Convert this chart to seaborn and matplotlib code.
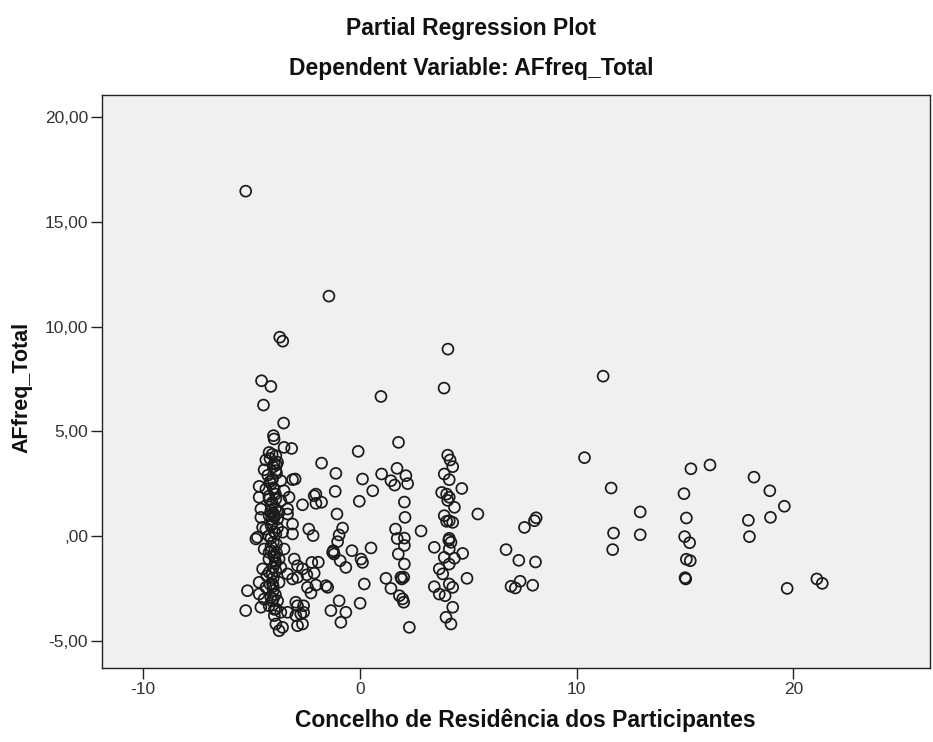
import numpy as np
import pandas as pd
import matplotlib
matplotlib.use("Agg")
import matplotlib.pyplot as plt
import seaborn as sns
from matplotlib.ticker import FixedLocator, FuncFormatter

# Partial residuals: residence council (x) vs. AFfreq_Total (y)
concelho = [
    # left band
    -5.27, -3.70, -3.56, -4.54, -4.11, -4.45, -3.52, -3.99, -3.96, -3.50, -3.15,
    -4.19, -3.88, -4.05, -4.34, -3.80, -3.95, -4.42, -3.88,
    -4.03, -3.65, -3.11, -2.99, -4.65, -4.34, -3.96, -3.50,
    -4.65, -4.19, -3.88, -3.65, -3.27, -4.57, -4.11, -3.73, -3.34,
    -4.57, -4.19, -3.80, -3.34, -3.11, -4.73, -4.34, -4.49, -3.88, -3.57, -3.11, -4.80,
    -4.42, -4.19, -3.96, -3.73, -3.50, -3.03, -2.88, -4.49, -4.19, -3.88, -3.65,
    -3.34, -3.11, -2.88, -5.19, -4.65, -4.34, -4.03, -3.73,
    -4.65, -4.42, -4.11, -3.80, -5.27, -4.57, -4.19, -3.88, -3.65,
    -3.34, -2.88, -2.73, -2.96, -3.88, -3.57, -2.88, -3.73,
    -4.00, -4.10, -3.90, -4.10, -3.95, -4.05, -4.00, -4.10, -3.90, -4.00, -4.00,
    -3.95, -4.20, -4.30, -3.80, -4.25,
    -4.15, -3.85, -4.00, -4.20, -3.90, -4.05, -3.95, -4.10, -3.85, -4.00,
    -4.15, -3.90, -4.05, -3.95, -4.10, -4.00, -3.85, -4.20, -3.95, -4.05,
    -4.05, -3.95, -4.10, -3.90, -4.00, -4.15, -3.85, -4.00,
    # middle-left band
    -1.43, -1.77, -1.11, -1.14, -2.03, -2.03, -1.77, -2.65, -1.06, -2.11,
    -2.36, -2.16, -0.80, -0.96, -1.03, -1.23, -1.19, -1.26,
    -0.37, -0.91, -0.65, -2.65, -2.22, -1.92, -2.11, -2.45,
    -2.42, -2.26, -2.03, -1.57, -1.49, -0.96, -0.65, -1.34, -0.88,
    -2.60, -2.60, -2.65, -2.96,
    -0.08, -0.03, 0.12, 0.59, 0.20, 0.01, 0.05, 0.12, 0.51,
    # central band
    0.97, 1.78, 1.00, 1.71, 1.43, 1.60, 2.12, 2.20, 2.05, 2.08, 2.82,
    1.64, 1.72, 2.05, 1.77, 2.05, 2.05, 2.02, 1.20, 1.43, 1.89, 1.93,
    1.82, 1.97, 2.02, 2.28, 3.43,
    # band near 4
    4.06, 3.88, 4.05, 4.16, 4.28, 3.89, 4.12, 4.70, 3.77, 4.12, 4.36, 3.89, 4.12, 4.28, 5.44,
    4.12, 4.20, 4.12, 4.74, 3.89, 4.36, 4.12, 3.66, 3.82, 4.94, 3.43, 3.66, 3.93,
    4.12, 4.28, 4.28, 3.97, 4.20, 4.05, 4.00, 4.10, 4.00,
    # right side
    7.59, 8.05, 8.13, 6.74, 7.33, 8.10, 7.39, 6.97, 7.17, 7.97,
    11.22, 10.36, 11.59, 11.70, 11.66, 12.93, 12.93,
    15.27, 16.15, 14.95, 15.06, 14.98, 15.21, 15.06, 15.24, 15.00, 15.03,
    18.18, 18.91, 19.58, 17.92, 18.94, 17.97, 19.71, 21.08, 21.33,
]

affreq_total = [
    # left band
    16.46, 9.49, 9.30, 7.41, 7.14, 6.25, 5.39, 4.79, 4.63, 4.23, 4.18,
    3.99, 3.83, 3.90, 3.63, 3.52, 3.45, 3.16, 3.12,
    2.72, 2.64, 2.69, 2.72, 2.37, 2.24, 2.24, 2.16,
    1.85, 1.77, 1.77, 1.68, 1.85, 1.29, 1.21, 1.13, 1.29,
    0.89, 0.97, 0.81, 1.05, 0.57, -0.06, 0.33, 0.41, 0.10, 0.18, 0.10, -0.14,
    -0.62, -0.78, -0.94, -1.10, -0.62, -1.10, -1.42, -1.57, -1.73, -1.66, -1.50,
    -1.81, -2.05, -1.97, -2.61, -2.21, -2.45, -2.29, -2.21,
    -2.77, -3.01, -2.93, -3.09, -3.56, -3.40, -3.33, -3.48, -3.64,
    -3.64, -3.33, -3.72, -3.80, -4.20, -4.36, -4.28, -4.52,
    3.30, 2.50, 2.00, 1.50, 1.00, 0.60, -0.30, -0.50, -1.30, -2.00, -2.60,
    -3.80, -1.10, -1.90, 0.40, 2.90,
    3.70, 3.00, 2.30, 1.90, 1.30, 0.80, 0.20, -0.10, -0.80, -1.50,
    -2.30, -2.80, -3.10, -3.50, 0.50, 1.10, -0.40, 0.00, -1.00, -1.80,
    1.60, 0.90, -0.70, -1.20, -2.40, 2.60, 3.40, -3.00,
    # middle-left band
    11.45, 3.48, 2.99, 2.13, 2.00, 1.56, 1.61, 1.49, 1.05, 1.92,
    0.33, 0.02, 0.38, 0.05, -0.27, -0.70, -0.86, -0.78,
    -0.70, -1.18, -1.50, -1.57, -1.26, -1.25, -1.77, -1.85,
    -2.45, -2.72, -2.34, -2.37, -2.45, -3.09, -3.64, -3.56, -4.12,
    -3.33, -3.64, -4.20, -3.16,
    4.04, 1.66, 2.72, 2.16, -2.29, -3.21, -1.10, -1.26, -0.57,
    # central band
    6.66, 4.47, 2.96, 3.23, 2.64, 2.43, 2.88, 2.50, 1.62, 0.89, 0.24,
    0.33, -0.12, -0.45, -0.86, -1.34, -0.10, -1.97, -2.02, -2.50, -1.97, -2.05,
    -2.85, -3.00, -3.16, -4.36, -0.54,
    # band near 4
    8.92, 7.06, 3.86, 3.63, 3.31, 2.96, 2.69, 2.27, 2.08, 1.85, 1.37, 0.97, 0.73, 0.65, 1.05,
    -0.11, -0.30, -0.62, -0.83, -1.02, -1.06, -1.34, -1.57, -1.81, -2.02, -2.42, -2.77, -2.85,
    -2.29, -2.45, -3.40, -3.88, -4.20, 1.70, 0.70, -0.20, 2.00,
    # right side
    0.41, 0.73, 0.87, -0.65, -1.16, -1.24, -2.16, -2.40, -2.48, -2.35,
    7.63, 3.74, 2.29, 0.14, -0.65, 1.15, 0.06,
    3.21, 3.39, 2.02, 0.86, -0.03, -0.32, -1.11, -1.18, -1.99, -2.05,
    2.81, 2.16, 1.42, 0.75, 0.89, -0.03, -2.50, -2.05, -2.26,
]

x_ticks = [-10, 0, 10, 20]
y_ticks = [-5, 0, 5, 10, 15, 20]

df = pd.DataFrame({"Concelho": concelho, "AFfreq_Total": affreq_total})

sns.set_theme(style="white")
plt.rcParams["font.family"] = ["Liberation Sans", "DejaVu Sans"]

fig = plt.figure(figsize=(9.33, 7.42), dpi=100)
ax = fig.add_axes([102 / 933, 1 - 668 / 742, (930 - 102) / 933, (668 - 95) / 742])
ax.set_facecolor("#f0f0f0")

sns.scatterplot(data=df, x="Concelho", y="AFfreq_Total", ax=ax,
                marker="o", s=62, linewidth=1.25, legend=False)
pts = ax.collections[0]
pts.set_facecolor("none")
pts.set_edgecolor("#1a1a1a")

ax.set_xlim(-11.9, 26.3)
ax.set_ylim(-6.3, 21.05)

ax.xaxis.set_major_locator(FixedLocator(x_ticks))
ax.yaxis.set_major_locator(FixedLocator(y_ticks))
ax.xaxis.set_major_formatter(FuncFormatter(lambda v, p: f"{v:.0f}"))


def pt_decimal(v, p):
    s = f"{v:.2f}".replace(".", ",")
    if s.startswith("0,"):
        s = s[1:]
    return s


ax.yaxis.set_major_formatter(FuncFormatter(pt_decimal))

for side in ["top", "right", "left", "bottom"]:
    ax.spines[side].set_visible(True)
    ax.spines[side].set_color("#222222")
    ax.spines[side].set_linewidth(1.0)

ax.tick_params(axis="both", which="major", direction="out", length=8, width=1.0,
               color="#222222", labelsize=12.5, labelcolor="#333333", pad=2,
               left=True, bottom=True, top=False, right=False)

ax.set_xlabel("Concelho de Residência dos Participantes", fontsize=16.5,
              fontweight="bold", color="#111111", va="center")
ax.xaxis.set_label_coords(0.511, -(720 - 668) / 573)
ax.set_ylabel("AFfreq_Total", fontsize=15.5, fontweight="bold", color="#111111",
              va="center")
ax.yaxis.set_label_coords((22 - 102) / 828, 0.49)

fig.text(0.505, 1 - 29 / 742, "Partial Regression Plot", ha="center", va="center",
         fontsize=16.5, fontweight="bold", color="#111111")
fig.text(0.505, 1 - 69 / 742, "Dependent Variable: AFfreq_Total", ha="center",
         va="center", fontsize=16.5, fontweight="bold", color="#111111")

fig.savefig("out.png", dpi=100, facecolor="white")
